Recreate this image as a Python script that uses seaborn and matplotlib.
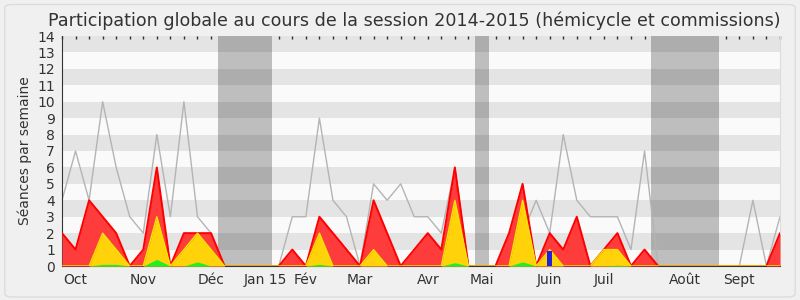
import matplotlib
matplotlib.use("Agg")
import matplotlib.pyplot as plt
import seaborn as sns
import pandas as pd
from matplotlib.patches import FancyBboxPatch

# ---- data (one value per week) ----
weeks = list(range(54))
presences_commission = [2, 1, 4, 3, 2, 0, 1, 6, 0, 2, 2, 2, 0, 0, 0, 0, 0, 1, 0, 3,
                        2, 1, 0, 4, 2, 0, 1, 2, 1, 6, 0, 0, 0, 2, 5, 0, 2, 1, 3, 0,
                        1, 2, 0, 1, 0, 0, 0, 0, 0, 0, 0, 0, 0, 2]
presences_hemicycle = [0, 0, 0, 2, 1, 0, 0, 3, 0, 1, 2, 1, 0, 0, 0, 0, 0, 0, 0, 2,
                       0, 0, 0, 1, 0, 0, 0, 0, 0, 4, 0, 0, 0, 0, 4, 0, 1, 0, 0, 0,
                       1, 1, 0, 0, 0, 0, 0, 0, 0, 0, 0, 0, 0, 0]
interventions = [0, 0, 0, 0.1, 0.1, 0, 0, 0.4, 0, 0, 0.25, 0, 0, 0, 0, 0, 0, 0, 0, 0.1,
                 0, 0, 0, 0, 0, 0, 0, 0, 0, 0.2, 0, 0, 0, 0, 0.25, 0, 0, 0, 0, 0,
                 0, 0.05, 0, 0, 0, 0, 0, 0, 0, 0, 0, 0, 0, 0]
questions_week = [36]
questions_value = [0.9]
mediane = [4, 7, 4, 10, 6, 3, 2, 8, 3, 10, 3, 2, 0, 0, 0, 0, 0, 3, 3, 9,
           4, 3, 0, 5, 4, 5, 3, 3, 2, 6, 0, 0, 0, 2, 2, 4, 2, 8, 4, 3,
           3, 3, 1, 7, 0, 0, 0, 0, 0, 0, 0, 4, 0, 3]
vacances_debut = [11.5, 30.5, 43.5]
vacances_fin = [15.5, 31.5, 48.5]
mois_pos = [1, 6, 11, 15, 18, 22, 27, 31, 36, 40, 46, 50]
mois_lab = ["Oct", "Nov", "Déc", "Jan 15", "Fév", "Mar", "Avr", "Mai", "Juin", "Juil", "Août", "Sept"]

df = pd.DataFrame({"semaine": weeks, "commission": presences_commission,
                   "hemicycle": presences_hemicycle, "interventions": interventions,
                   "mediane": mediane})

sns.set_style("white")
plt.rcParams["font.family"] = ["DejaVu Sans"]

fig = plt.figure(figsize=(8, 3), dpi=100)
fig.patch.set_facecolor("#f0f0f0")
fig.patches.append(FancyBboxPatch((0.006, 0.01), 0.988, 0.975, boxstyle="round,pad=0,rounding_size=0.01",
                                  transform=fig.transFigure, facecolor="none",
                                  edgecolor="#dcdcdc", lw=1, zorder=0))
ax = fig.add_axes([62 / 800, 34 / 300, 718 / 800, 230 / 300])
ax.set_facecolor("#fafafa")

for a, b in zip(vacances_debut, vacances_fin):
    ax.axvspan(a, b, color="#bebebe", lw=0, zorder=0.2)
for k in range(1, 14, 2):
    ax.axhspan(k, k + 1, color="black", alpha=0.085, lw=0, zorder=0.4)

sns.lineplot(data=df, x="semaine", y="mediane", color="#b4b4b4", lw=1, ax=ax, zorder=2)

ax.fill_between(df["semaine"], df["commission"], color="#ff3c3c", lw=0, zorder=3)
sns.lineplot(data=df, x="semaine", y="commission", color="#ff0000", lw=1.4, ax=ax, zorder=3.1)
ax.fill_between(df["semaine"], df["hemicycle"], color="#ffd20a", lw=0, zorder=4)
sns.lineplot(data=df, x="semaine", y="hemicycle", color="#f2e600", lw=1.0, ax=ax, zorder=4.1)
ax.fill_between(df["semaine"], df["interventions"], color="#22ee22", lw=0, zorder=5)
ax.bar(questions_week, questions_value, width=0.33, color="#2222dd", lw=0, zorder=6)

ax.set_xlim(0, 53)
ax.set_ylim(0, 14)
ax.set_yticks(range(15))
ax.set_yticklabels([str(v) for v in range(15)], fontsize=10, color="#333333")
ax.set_xticks(weeks)
labs = [""] * len(weeks)
for p, l in zip(mois_pos, mois_lab):
    labs[p] = l
ax.set_xticklabels(labs, fontsize=10, color="#333333")
ax.tick_params(axis="x", direction="out", length=4, width=1, color="#333333", pad=1)
ax.tick_params(axis="y", direction="out", length=4, width=1, color="#333333", pad=1)
ax.set_xlabel("")
ax.set_ylabel("Séances par semaine", fontsize=10, color="#333333", labelpad=4)

top = ax.secondary_xaxis("top")
top.set_xticks(weeks)
top.set_xticklabels([])
top.tick_params(direction="in", length=2, width=1, color="#333333")
top.spines["top"].set_visible(False)

ax.spines["top"].set_visible(False)
ax.spines["right"].set_color("#dddddd")
ax.spines["left"].set_color("#333333")
ax.spines["bottom"].set_color("#333333")

fig.text(0.5175, 0.932, "Participation globale au cours de la session 2014-2015 (hémicycle et commissions)",
         ha="center", va="center", fontsize=12.6, color="#333333")

fig.savefig("out.png", dpi=100, facecolor=fig.get_facecolor())
